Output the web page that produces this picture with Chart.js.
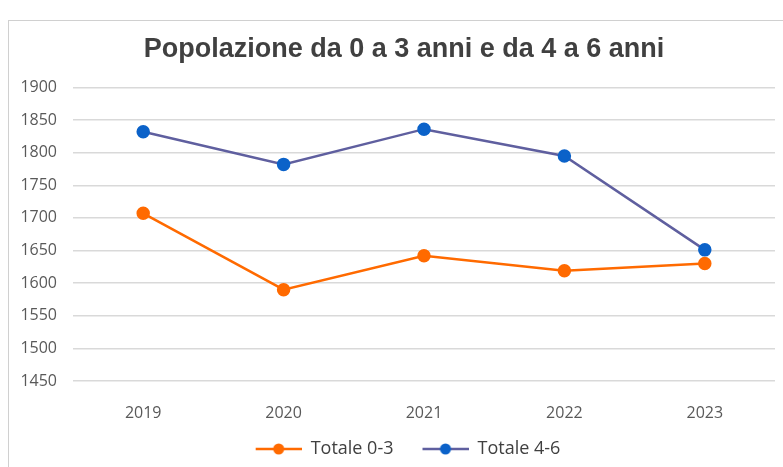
<!DOCTYPE html>
<html><head><meta charset="utf-8">
<script src="https://cdn.jsdelivr.net/npm/chart.js@4"></script>
<style>html,body{margin:0;padding:0;background:#fff}#wrap{width:783px;height:467px;position:relative}</style>
</head><body><div id="wrap"><canvas id="c" width="783" height="467"></canvas></div>
<script>
const categories = ["2019","2020","2021","2022","2023"];
const totale03 = [1707, 1590, 1642, 1619, 1630];
const totale46 = [1832, 1782, 1836, 1795, 1651];
const yTicks = [1450,1500,1550,1600,1650,1700,1750,1800,1850,1900];
const seriesNames = ["Totale 0-3","Totale 4-6"];

const ORANGE = "#FF6A00";
const BLUE_LINE = "#5F5F9F";
const BLUE_PT = "#0B62C9";

const ICON_MARGIN = 8;
function legendIcon(lineColor, ptColor){
  const cv = document.createElement('canvas');
  cv.width = 46 + ICON_MARGIN; cv.height = 14;
  const g = cv.getContext('2d');
  g.strokeStyle = lineColor; g.lineWidth = 2.5;
  g.beginPath(); g.moveTo(ICON_MARGIN,7); g.lineTo(ICON_MARGIN+46,7); g.stroke();
  g.fillStyle = ptColor;
  g.beginPath(); g.arc(ICON_MARGIN+23,7,5.5,0,Math.PI*2); g.fill();
  return cv;
}
const icons = [legendIcon(ORANGE, ORANGE), legendIcon(BLUE_LINE, BLUE_PT)];

const borderPlugin = {
  id:'frame',
  beforeDraw(chart){
    const ctx = chart.ctx;
    ctx.save();
    ctx.strokeStyle = '#d0d0d0'; ctx.lineWidth = 1;
    ctx.strokeRect(8.5, 20.5, 900, 600);
    ctx.restore();
  }
};

new Chart(document.getElementById('c'), {
  type:'line',
  data:{
    labels: categories,
    datasets:[
      {label: seriesNames[0], data: totale03, borderColor: ORANGE, backgroundColor: ORANGE,
       pointBackgroundColor: ORANGE, pointBorderColor: ORANGE, pointRadius: 5.5, borderWidth: 2.5, tension: 0},
      {label: seriesNames[1], data: totale46, borderColor: BLUE_LINE, backgroundColor: BLUE_PT,
       pointBackgroundColor: BLUE_PT, pointBorderColor: BLUE_PT, pointRadius: 5.5, borderWidth: 2.5, tension: 0}
    ]
  },
  plugins:[borderPlugin],
  options:{
    responsive:false, animation:false,
    layout:{padding:{left:21, right:-4, top:0, bottom:-1}},
    plugins:{
      title:{display:true, text:'Popolazione da 0 a 3 anni e da 4 a 6 anni', color:'#404040',
        font:{family:"'Liberation Sans',Arial", size:27, weight:'bold'},
        padding:{top:33, bottom:22}},
      legend:{position:'bottom',
        labels:{color:'#404040', font:{family:"'Open Sans','Liberation Sans'", size:18},
          usePointStyle:true, pointStyleWidth:46+ICON_MARGIN, boxWidth:46+ICON_MARGIN, boxHeight:14, padding:21,
          generateLabels(chart){
            return chart.data.datasets.map((ds,i)=>({text: ds.label, pointStyle: icons[i], datasetIndex:i,
              fillStyle: ds.borderColor, strokeStyle: ds.borderColor, lineWidth:0, hidden:false, fontColor:'#404040'}));
          }}},
      tooltip:{enabled:false}
    },
    scales:{
      x:{offset:true, grid:{display:false, drawTicks:false}, border:{display:false},
        afterFit(s){ s.height = 38; },
        ticks:{color:'#595959', padding:23, font:{family:"'Open Sans','Liberation Sans'", size:16}}},
      y:{min:1450, max:1900, afterFit(s){ s.width = 52; },
        afterBuildTicks(s){ s.ticks = yTicks.map(v=>({value:v})); },
        grid:{color:'#d9d9d9', lineWidth:1.5, drawTicks:false}, border:{display:false},
        ticks:{color:'#595959', padding:16, callback:(v)=>String(v), font:{family:"'Open Sans','Liberation Sans'", size:16}}}
    }
  }
});
</script></body></html>
